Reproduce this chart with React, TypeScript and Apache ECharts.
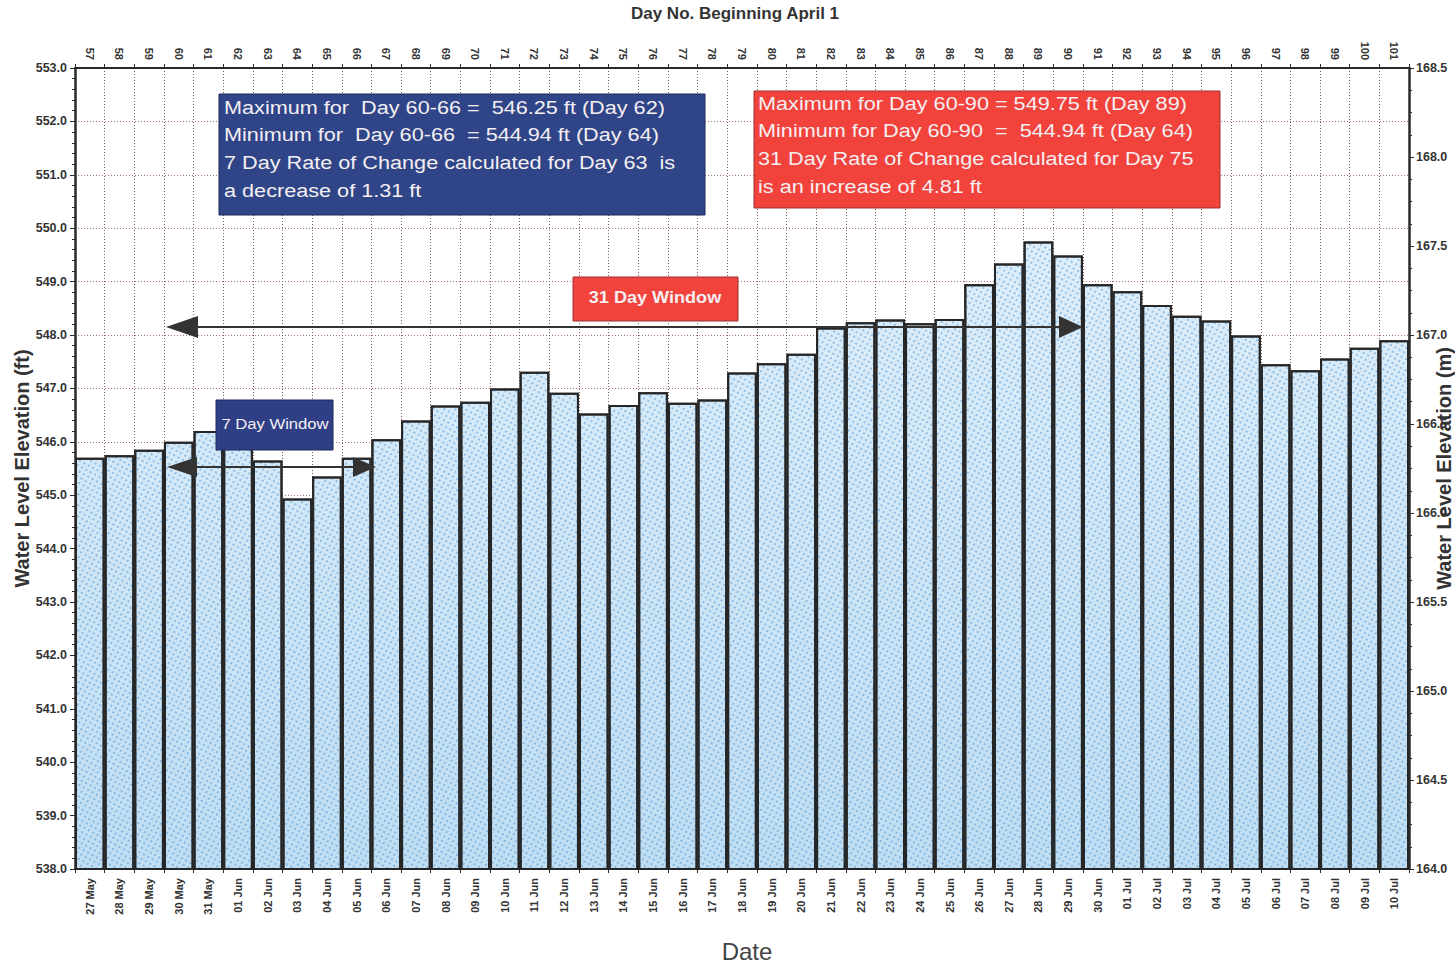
import React, { useEffect, useRef } from "react";
import * as echarts from "echarts";

const dayNumbers = [
  "57","58","59","60","61","62","63","64","65","66","67","68","69","70","71",
  "72","73","74","75","76","77","78","79","80","81","82","83","84","85","86",
  "87","88","89","90","91","92","93","94","95","96","97","98","99","100","101",
];

const dates = [
  "27 May","28 May","29 May","30 May","31 May","01 Jun","02 Jun","03 Jun","04 Jun","05 Jun",
  "06 Jun","07 Jun","08 Jun","09 Jun","10 Jun","11 Jun","12 Jun","13 Jun","14 Jun","15 Jun",
  "16 Jun","17 Jun","18 Jun","19 Jun","20 Jun","21 Jun","22 Jun","23 Jun","24 Jun","25 Jun",
  "26 Jun","27 Jun","28 Jun","29 Jun","30 Jun","01 Jul","02 Jul","03 Jul","04 Jul","05 Jul",
  "06 Jul","07 Jul","08 Jul","09 Jul","10 Jul",
];

const elevationFt = [
  545.7, 545.75, 545.85, 546.0, 546.2, 546.25, 545.65, 544.94, 545.35, 545.7,
  546.05, 546.4, 546.68, 546.75, 547.0, 547.31, 546.92, 546.53, 546.69, 546.93,
  546.73, 546.79, 547.3, 547.47, 547.65, 548.14, 548.24, 548.29, 548.22, 548.3,
  548.95, 549.34, 549.75, 549.49, 548.95, 548.82, 548.56, 548.36, 548.27, 547.99,
  547.45, 547.34, 547.56, 547.76, 547.9,
];

const blueBoxLines = [
  "Maximum for  Day 60-66 =  546.25 ft (Day 62)",
  "Minimum for  Day 60-66  = 544.94 ft (Day 64)",
  "7 Day Rate of Change calculated for Day 63  is",
  "a decrease of 1.31 ft",
];

const redBoxLines = [
  "Maximum for Day 60-90 = 549.75 ft (Day 89)",
  "Minimum for Day 60-90  =  544.94 ft (Day 64)",
  "31 Day Rate of Change calculated for Day 75",
  "is an increase of 4.81 ft",
];

const FONT = "'Liberation Sans', Arial, sans-serif";
const AXIS_COLOR = "#2a2a2a";
const GRID_COLOR = "#a87272";
const BLUE_BOX = "#2f4587";
const RED_BOX = "#f2423c";
const BOX_TEXT = "#f4eff2";

export default function App() {
  const ref = useRef<HTMLDivElement>(null);

  useEffect(() => {
    if (!ref.current) return;
    const chart = echarts.init(ref.current, undefined, { renderer: "svg" });

    const boxText = (lines: string[], x: number, y0: number, step: number) =>
      lines.map((t, i) => ({
        type: "text",
        z: 102,
        x,
        y: y0 + i * step,
        scaleX: 1.14,
        style: {
          text: t,
          fill: BOX_TEXT,
          fontSize: 19,
          fontFamily: FONT,
          verticalAlign: "middle",
        },
      }));

    const option: any = {
      animation: false,
      backgroundColor: "#ffffff",
      grid: {
        left: 75,
        right: 46,
        top: 68,
        bottom: 95,
        containLabel: false,
        outerBoundsMode: "none",
      },
      xAxis: [
        {
          type: "category",
          position: "bottom",
          data: dates,
          boundaryGap: true,
          name: "Date",
          nameLocation: "middle",
          nameGap: 70,
          nameMoveOverlap: false,
          nameTextStyle: {
            fontSize: 24,
            color: "#444",
            fontFamily: FONT,
            padding: [0, 0, 0, 10],
          },
          axisLine: { show: true, onZero: false, lineStyle: { color: AXIS_COLOR, width: 2 } },
          axisTick: { show: true, length: 4, interval: 0, lineStyle: { color: AXIS_COLOR } },
          axisLabel: {
            rotate: 90,
            interval: 0,
            fontSize: 11,
            fontWeight: "bold",
            color: "#333",
            fontFamily: FONT,
            margin: 9,
          },
          splitLine: {
            show: true,
            interval: 0,
            lineStyle: { color: "#7a5e5e", type: [1, 2], width: 1 },
          },
        },
        {
          type: "category",
          position: "top",
          data: dayNumbers,
          boundaryGap: true,
          name: "Day No. Beginning April 1",
          nameLocation: "middle",
          nameGap: 46,
          nameMoveOverlap: false,
          nameTextStyle: {
            fontSize: 17,
            fontWeight: "bold",
            color: "#333",
            fontFamily: FONT,
            padding: [0, 14, 0, 0],
          },
          axisLine: { show: true, onZero: false, lineStyle: { color: AXIS_COLOR, width: 2 } },
          axisTick: { show: true, length: 4, interval: 0, lineStyle: { color: AXIS_COLOR } },
          axisLabel: {
            rotate: 90,
            interval: 0,
            fontSize: 11,
            fontWeight: "bold",
            color: "#333",
            fontFamily: FONT,
            margin: 8,
          },
          splitLine: { show: false },
        },
      ],
      yAxis: [
        {
          type: "value",
          position: "left",
          min: 538,
          max: 553,
          interval: 1,
          name: "Water Level Elevation (ft)",
          nameLocation: "middle",
          nameGap: 43,
          nameRotate: 90,
          nameMoveOverlap: false,
          nameTextStyle: { fontSize: 20, fontWeight: "bold", color: "#333", fontFamily: FONT },
          axisLine: { show: true, lineStyle: { color: AXIS_COLOR, width: 2.5 } },
          axisTick: { show: true, length: 5, lineStyle: { color: AXIS_COLOR } },
          minorTick: { show: true, splitNumber: 5, length: 3, lineStyle: { color: AXIS_COLOR } },
          axisLabel: {
            formatter: (v: number) => v.toFixed(1),
            fontSize: 12.5,
            fontWeight: "bold",
            color: "#333",
            fontFamily: FONT,
            margin: 8,
          },
          splitLine: {
            show: true,
            lineStyle: { color: GRID_COLOR, type: [1, 2], width: 1 },
          },
        },
        {
          type: "value",
          position: "right",
          min: 164,
          max: 168.5,
          interval: 0.5,
          name: "Water Level Elevation (m)",
          nameLocation: "middle",
          nameGap: 25,
          nameRotate: 90,
          nameMoveOverlap: false,
          nameTextStyle: { fontSize: 20, fontWeight: "bold", color: "#333", fontFamily: FONT },
          axisLine: { show: true, lineStyle: { color: AXIS_COLOR, width: 2.5 } },
          axisTick: { show: true, length: 5, lineStyle: { color: AXIS_COLOR } },
          minorTick: { show: true, splitNumber: 4, length: 3, lineStyle: { color: AXIS_COLOR } },
          axisLabel: {
            formatter: (v: number) => v.toFixed(1),
            fontSize: 12.5,
            fontWeight: "bold",
            color: "#333",
            fontFamily: FONT,
            margin: 7,
          },
          splitLine: { show: false },
        },
      ],
      series: [
        {
          type: "bar",
          xAxisIndex: 0,
          yAxisIndex: 0,
          data: elevationFt,
          barCategoryGap: "0%",
          barWidth: "100%",
          itemStyle: {
            color: {
              type: "linear",
              x: 0,
              y: 68,
              x2: 0,
              y2: 869,
              global: true,
              colorStops: [
                { offset: 0, color: "#e8f3fb" },
                { offset: 1, color: "#c0ddf2" },
              ],
            },
            borderColor: "#262626",
            borderWidth: 2,
            decal: {
              symbol: "rect",
              symbolSize: 1,
              color: "rgba(50,140,215,0.45)",
              dashArrayX: [1.5, 2.5],
              dashArrayY: [1.5, 3],
              rotation: 0.5,
            },
          },
        },
      ],
      graphic: [
        // Blue summary box
        {
          type: "rect",
          z: 100,
          shape: { x: 219, y: 94, width: 486, height: 121 },
          style: { fill: BLUE_BOX, stroke: "#1c2858", lineWidth: 1 },
        },
        ...boxText(blueBoxLines, 224, 107, 27.7),
        // Red summary box
        {
          type: "rect",
          z: 100,
          shape: { x: 754, y: 91, width: 466, height: 117 },
          style: { fill: RED_BOX, stroke: "#9a3030", lineWidth: 1 },
        },
        ...boxText(redBoxLines, 758, 103, 27.7),
        // 31 Day Window arrow
        {
          type: "line",
          z: 100,
          shape: { x1: 195, y1: 327, x2: 1062, y2: 327 },
          style: { stroke: "#333", lineWidth: 2 },
        },
        {
          type: "polygon",
          z: 101,
          shape: { points: [[166, 327], [198, 316], [198, 338]] },
          style: { fill: "#333" },
        },
        {
          type: "polygon",
          z: 101,
          shape: { points: [[1083, 327], [1059, 316], [1059, 338]] },
          style: { fill: "#333" },
        },
        {
          type: "rect",
          z: 100,
          shape: { x: 573, y: 277, width: 165, height: 44 },
          style: { fill: RED_BOX, stroke: "#9a3030", lineWidth: 1 },
        },
        {
          type: "text",
          z: 102,
          x: 655,
          y: 298,
          scaleX: 1.13,
          style: {
            text: "31 Day Window",
            fill: BOX_TEXT,
            fontSize: 16,
            fontWeight: "bold",
            fontFamily: FONT,
            align: "center",
            verticalAlign: "middle",
          },
        },
        // 7 Day Window arrow
        {
          type: "line",
          z: 100,
          shape: { x1: 195, y1: 467, x2: 355, y2: 467 },
          style: { stroke: "#333", lineWidth: 2 },
        },
        {
          type: "polygon",
          z: 101,
          shape: { points: [[167, 467], [197, 457], [197, 477]] },
          style: { fill: "#333" },
        },
        {
          type: "polygon",
          z: 101,
          shape: { points: [[376, 467], [353, 457], [353, 477]] },
          style: { fill: "#333" },
        },
        {
          type: "rect",
          z: 100,
          shape: { x: 216, y: 400, width: 117, height: 50 },
          style: { fill: "#2e3f86", stroke: "#1c2858", lineWidth: 1 },
        },
        {
          type: "text",
          z: 102,
          x: 275,
          y: 424,
          scaleX: 1.11,
          style: {
            text: "7 Day Window",
            fill: BOX_TEXT,
            fontSize: 15,
            fontFamily: FONT,
            align: "center",
            verticalAlign: "middle",
          },
        },
      ],
    };

    chart.setOption(option);
    return () => chart.dispose();
  }, []);

  return (
    <div
      ref={ref}
      style={{ position: "absolute", left: 0, top: 0, width: 1455, height: 964 }}
    />
  );
}
